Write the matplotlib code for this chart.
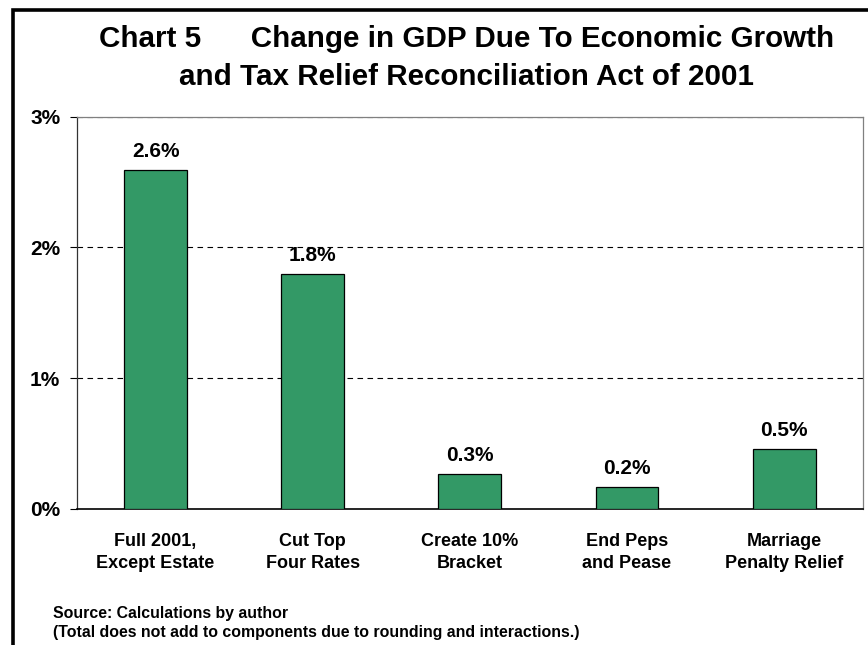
import matplotlib
matplotlib.use('Agg')
import matplotlib.pyplot as plt
from matplotlib.patches import Rectangle

plt.rcParams['font.family'] = ['Liberation Sans', 'DejaVu Sans']
plt.rcParams['font.weight'] = 'bold'

# GDP change by provision, percent
categories = ['Full 2001,\nExcept Estate', 'Cut Top\nFour Rates', 'Create 10%\nBracket',
              'End Peps\nand Pease', 'Marriage\nPenalty Relief']
gdp_change = [2.59, 1.80, 0.27, 0.17, 0.46]
y_ticks = [0, 1, 2, 3]
y_tick_labels = ['0%', '1%', '2%', '3%']

bar_color = '#339966'

fig = plt.figure(figsize=(8.68, 6.45), dpi=100)
ax = fig.add_axes([0.0887, 0.2109, 0.9052, 0.6082])

x = list(range(len(categories)))
ax.bar(x, gdp_change, width=0.4, color=bar_color, edgecolor='black', linewidth=0.9, zorder=3)

for xi, v in zip(x, gdp_change):
    ax.annotate('%.1f%%' % v, (xi, v), xytext=(0, 6.5), textcoords='offset points',
                ha='center', va='bottom', fontsize=15, fontweight='bold')

ax.set_xlim(-0.5, len(categories) - 0.5)
ax.set_ylim(0, 3)
ax.set_yticks(y_ticks)
ax.set_yticklabels(y_tick_labels, fontsize=15, fontweight='bold')
ax.set_xticks(x)
ax.set_xticklabels(categories, fontsize=13, fontweight='bold', linespacing=1.45)
ax.tick_params(axis='x', length=0, pad=17)
ax.tick_params(axis='y', length=5, width=0.8, pad=7, direction='out')

# dashed gridlines at 1%, 2% and 3%
for g in y_ticks[1:]:
    ax.axhline(g, color='black', linewidth=0.8, dashes=(5, 4), zorder=1)

ax.spines['left'].set_color('#333333')
ax.spines['bottom'].set_color('black')
ax.spines['bottom'].set_linewidth(1.2)
ax.spines['top'].set_color('#808080')
ax.spines['right'].set_color('#808080')
for s in ['left', 'top', 'right']:
    ax.spines[s].set_linewidth(0.9)

fig.text(0.538, 1 - 47.3 / 645, 'Chart 5      Change in GDP Due To Economic Growth',
         ha='center', va='baseline', fontsize=21.3, fontweight='bold')
fig.text(0.538, 1 - 85 / 645, 'and Tax Relief Reconciliation Act of 2001',
         ha='center', va='baseline', fontsize=21.3, fontweight='bold')

fig.text(53 / 868, 1 - 618 / 645, 'Source: Calculations by author',
         ha='left', va='baseline', fontsize=11.4, fontweight='bold')
fig.text(53 / 868, 1 - 637 / 645,
         '(Total does not add to components due to rounding and interactions.)',
         ha='left', va='baseline', fontsize=11.4, fontweight='bold')

# outer border (left and top edges fall inside the canvas)
fig.patches.append(Rectangle((13 / 868, -0.1), 1.1, 1 - 10 / 645 + 0.1,
                             transform=fig.transFigure, fill=False,
                             edgecolor='black', linewidth=2.6))

fig.savefig('out.png', dpi=100)
